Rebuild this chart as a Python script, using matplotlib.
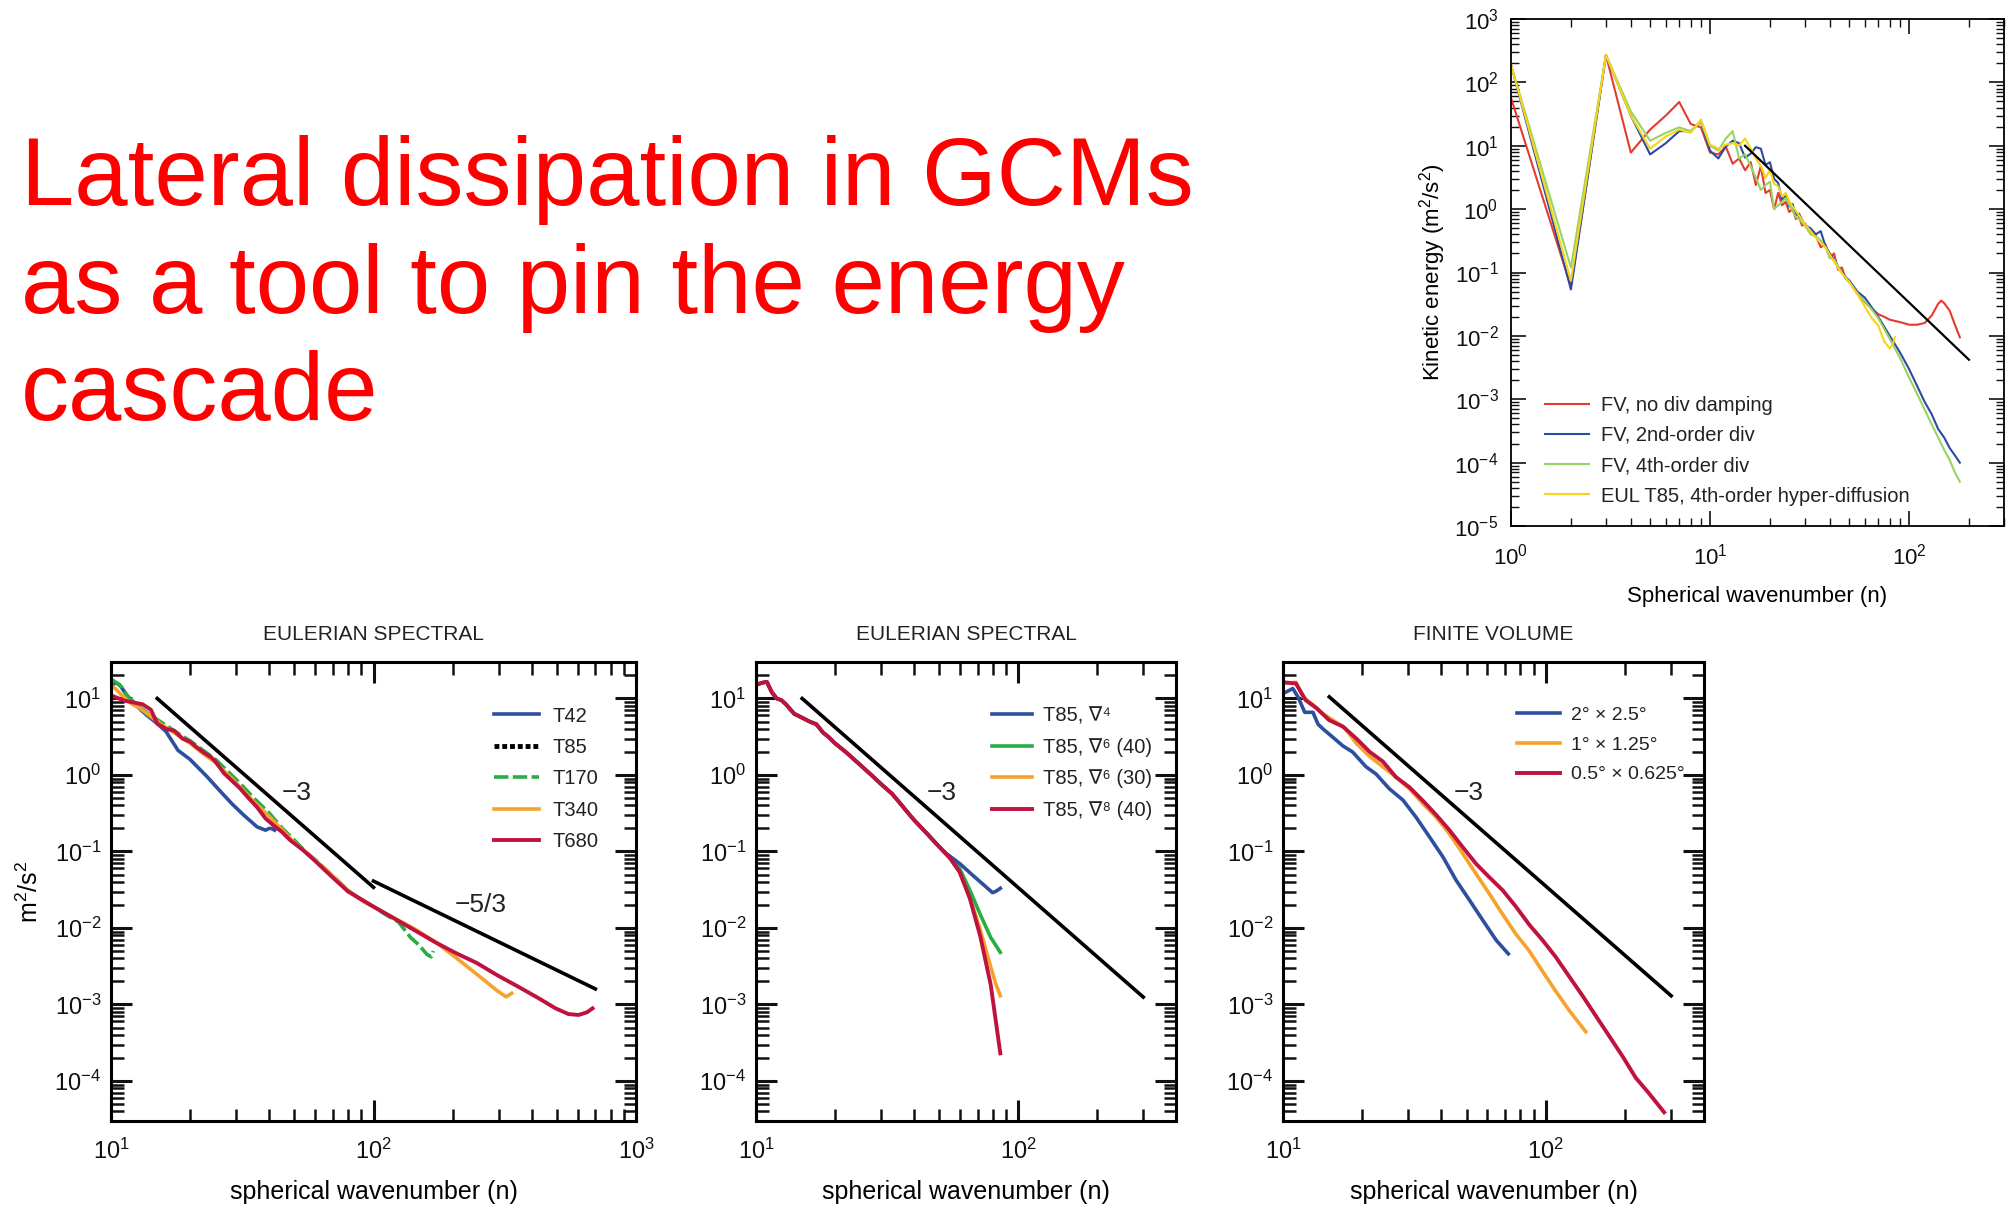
import numpy as np
import matplotlib
matplotlib.use('Agg')
import matplotlib.pyplot as plt
from matplotlib.ticker import LogLocator, NullFormatter

plt.rcParams['font.family'] = ['Liberation Sans', 'DejaVu Sans']
plt.rcParams['mathtext.fontset'] = 'dejavusans'
plt.rcParams['text.color'] = '#222222'

# ---- top right: kinetic energy spectra (FV vs EUL) ----
ke_red_n = [1, 2, 3, 4, 5, 6, 7, 8, 9, 10, 11, 12, 13, 14, 15, 16, 17, 18, 19, 20, 21, 22, 23, 24, 25, 26, 27, 28, 29, 30,
            32, 34, 36, 38, 40, 42, 44, 46, 48, 50, 53, 56, 60, 65, 70, 75, 80, 90, 100, 110, 120, 130, 140, 145, 150, 160, 170, 180]
ke_red = [57, 0.06, 270, 7.8, 18, 30, 49, 22, 19.5, 7.8, 7.3, 9.7, 5.2, 6.3, 4.1, 5.5, 2.4, 4.8, 1.8, 2.0, 1.0, 1.8, 1.15, 1.3, 0.9, 1.0, 0.7, 0.75, 0.55, 0.6,
          0.42, 0.38, 0.25, 0.28, 0.17, 0.2, 0.11, 0.12, 0.08, 0.075, 0.055, 0.045, 0.034, 0.027, 0.022, 0.02, 0.018, 0.0165, 0.015, 0.015, 0.016, 0.021, 0.032, 0.036, 0.033, 0.025, 0.015, 0.0095]

ke_blue_n = [1, 2, 3, 4, 5, 6, 7, 8, 9, 10, 11, 12, 13, 14, 15, 16, 17, 18, 19, 20, 21, 22, 23, 24, 25, 26, 27, 28, 30,
             32, 34, 36, 38, 40, 42, 45, 48, 50, 55, 60, 65, 70, 80, 90, 100, 110, 120, 130, 140, 150, 160, 170, 180]
ke_blue = [190, 0.054, 270, 30, 7.3, 11, 17, 17, 24, 8.4, 6.3, 9.7, 12, 11, 6.5, 7.5, 9.5, 9, 5, 5.5, 3.0, 2.6, 1.4, 1.6, 1.1, 1.2, 0.8, 0.85, 0.55,
           0.5, 0.4, 0.45, 0.26, 0.2, 0.16, 0.11, 0.085, 0.075, 0.05, 0.04, 0.028, 0.02, 0.01, 0.0055, 0.003, 0.0016, 0.0009, 0.00058, 0.00034, 0.00025, 0.00017, 0.00013, 0.0001]

ke_green_n = [1, 2, 3, 4, 5, 6, 7, 8, 9, 10, 11, 12, 13, 14, 15, 16, 17, 18, 19, 20, 21, 22, 23, 24, 25, 26, 27, 28, 30,
              32, 34, 36, 38, 40, 42, 45, 48, 50, 55, 60, 65, 70, 80, 90, 100, 110, 120, 130, 140, 150, 160, 170, 180]
ke_green = [190, 0.12, 270, 35, 12, 16, 19.5, 17, 24, 10, 8.4, 13, 17, 6.3, 7.3, 4.8, 3.1, 2.0, 2.4, 2.7, 1.0, 1.15, 1.3, 1.5, 1.17, 0.95, 0.75, 0.7, 0.55,
            0.4, 0.37, 0.32, 0.25, 0.17, 0.16, 0.11, 0.08, 0.07, 0.047, 0.035, 0.026, 0.019, 0.009, 0.0045, 0.0022, 0.0012, 0.00068, 0.0004, 0.00025, 0.00016, 0.00011, 0.00007, 0.00005]

ke_yel_n = [1, 2, 3, 4, 5, 6, 7, 8, 9, 10, 11, 12, 13, 14, 15, 16, 17, 18, 19, 20, 21, 22, 23, 24, 25, 26, 28, 30,
            32, 35, 38, 40, 45, 50, 55, 60, 65, 70, 75, 80, 83, 85]
ke_yel = [190, 0.074, 270, 30, 9, 14, 18, 16, 26, 10.4, 9, 10.4, 11, 10, 13, 9, 6.3, 4.8, 3.1, 4.1, 2.5, 2.3, 1.6, 1.8, 1.35, 1.1, 0.8, 0.58,
          0.45, 0.32, 0.25, 0.19, 0.105, 0.072, 0.045, 0.029, 0.019, 0.0146, 0.0082, 0.0063, 0.0075, 0.0096]

ke_ref_n = [15, 200]
ke_ref = [10, 0.0042]

# ---- panel 1: Eulerian spectral, resolution ----
p1_t42_n = [10, 10.5, 10.8, 11.5, 12.1, 13.5, 15, 16.2, 18, 20, 23.3, 26, 28.9, 32, 36, 38.8, 40, 40.9, 42]
p1_t42 = [15, 16, 15, 11, 8.9, 6.3, 4.7, 3.7, 2.1, 1.6, 0.94, 0.62, 0.42, 0.3, 0.21, 0.19, 0.2, 0.2, 0.19]

p1_t170_n = [10, 10.5, 11, 11.5, 12, 13, 14, 15, 16, 18, 20, 22, 25, 28, 31, 35, 40, 45, 50, 55, 60, 70, 80, 90, 100, 111, 124.5, 138.5, 149, 160, 166, 169]
p1_t170 = [18, 16, 14, 11, 9.5, 7.5, 6.2, 5.3, 4.6, 3.5, 2.8, 2.2, 1.6, 1.1, 0.78, 0.5, 0.32, 0.2, 0.14, 0.1, 0.078, 0.048, 0.031, 0.023, 0.019, 0.015, 0.012, 0.0075, 0.006, 0.0045, 0.0042, 0.005]

p1_t340_n = [10, 10.5, 11, 12, 13, 14, 15, 16, 18, 20, 22, 25, 28, 31, 35, 40, 45, 50, 60, 70, 80, 90, 100, 120, 143, 172, 206, 247, 297, 320, 336]
p1_t340 = [15, 13, 11, 8.5, 7.3, 6.0, 5.0, 4.3, 3.3, 2.6, 2.0, 1.45, 1.0, 0.7, 0.45, 0.29, 0.19, 0.13, 0.077, 0.048, 0.031, 0.023, 0.019, 0.0135, 0.0098, 0.0066, 0.0041, 0.0025, 0.0015, 0.00126, 0.0014]

p1_t680_n = [10, 11.2, 12.1, 13.2, 14.2, 15, 16.2, 17.4, 18.7, 20.1, 20.9, 22.4, 24.1, 25, 26.9, 28.9, 31, 33.4, 36, 38.8, 41.6, 44.8, 48.2, 53.8, 60,
             69.3, 80, 89.3, 100, 120, 143, 172, 206, 247, 297, 357, 427, 494, 553, 605, 650, 683]
p1_t680 = [11, 9.4, 8.9, 8.4, 7.1, 4.7, 4.0, 3.8, 3.0, 2.7, 2.4, 2.0, 1.7, 1.5, 1.06, 0.84, 0.67, 0.5, 0.38, 0.27, 0.22, 0.18, 0.14, 0.105, 0.075,
           0.047, 0.03, 0.024, 0.019, 0.0133, 0.0094, 0.0065, 0.0047, 0.0035, 0.0024, 0.0017, 0.0012, 0.00089, 0.00075, 0.00073, 0.00079, 0.00089]

p1_ref3_n = [15, 100]
p1_ref3 = [10, 0.034]
p1_ref53_n = [100, 700]
p1_ref53 = [0.041, 0.0016]

# ---- panel 2: Eulerian spectral, hyper-diffusion ----
p2_base_n = [10, 10.5, 11, 11.5, 12, 12.5, 13, 14, 15, 16, 17, 18, 19, 20, 22, 25, 28, 30, 33, 35, 38, 40, 45, 50]
p2_base = [15, 16, 16.5, 12, 10, 9.5, 8.4, 6.3, 5.6, 5.0, 4.6, 3.6, 3.1, 2.6, 2.0, 1.35, 0.95, 0.76, 0.57, 0.45, 0.32, 0.26, 0.17, 0.115]
p2_d4_n = [53, 60, 67.5, 75, 79.8, 82, 85.5]
p2_d4 = [0.095, 0.069, 0.048, 0.035, 0.029, 0.03, 0.033]
p2_d6a_n = [55, 59.8, 65.5, 71.7, 78.6, 82, 85.5]
p2_d6a = [0.082, 0.06, 0.031, 0.015, 0.0075, 0.006, 0.0048]
p2_d6b_n = [55, 59.8, 65.5, 71.7, 78.6, 82, 85.5]
p2_d6b = [0.08, 0.054, 0.025, 0.0095, 0.0031, 0.0019, 0.0013]
p2_d8_n = [55, 59.8, 65.5, 71.7, 78.6, 85.5]
p2_d8 = [0.082, 0.054, 0.024, 0.0078, 0.0018, 0.00023]
p2_ref_n = [15, 300]
p2_ref = [10, 0.00125]

# ---- panel 3: finite volume ----
p3_lo_n = [10, 10.9, 11.4, 12.1, 13, 13.6, 14.2, 15.5, 16.9, 18.4, 20.7, 22.6, 25.4, 28.6, 32.1, 36.1, 40.6, 45.6, 51.3, 57.6, 64.8, 72]
p3_lo = [11.6, 13.5, 10.5, 6.6, 6.6, 4.6, 4.0, 3.1, 2.4, 2.0, 1.28, 1.03, 0.66, 0.47, 0.28, 0.155, 0.085, 0.042, 0.023, 0.0126, 0.0069, 0.0046]
p3_mid_n = [10, 11.2, 11.9, 13, 14.2, 15.5, 17.2, 19, 21.4, 24, 26.9, 30.3, 34.1, 38.3, 43, 48.3, 54.3, 61, 68.6, 77, 86.6, 97.3, 109, 123, 142]
p3_mid = [15.7, 16.3, 10.5, 8.3, 6.3, 5.2, 4.1, 2.6, 1.74, 1.28, 0.94, 0.66, 0.42, 0.28, 0.17, 0.094, 0.051, 0.028, 0.015, 0.0083, 0.005, 0.0027, 0.0015, 0.00083, 0.00044]
p3_hi_n = [10, 11.2, 12.2, 13.4, 15, 16.9, 19, 21.4, 24, 26.9, 30.3, 34.1, 38.3, 43, 48.3, 54.3, 61, 68.6, 77, 86.6, 97.3,
           109, 123, 138, 155, 174, 196, 220, 247, 282]
p3_hi = [16.3, 15.7, 9.5, 7.5, 5.2, 4.3, 3.0, 2.0, 1.5, 0.94, 0.69, 0.46, 0.3, 0.19, 0.114, 0.069, 0.046, 0.031, 0.019, 0.011, 0.0069,
         0.0042, 0.0023, 0.0013, 0.00071, 0.00039, 0.00021, 0.00011, 0.000069, 0.000039]
p3_ref_n = [15, 300]
p3_ref = [10.5, 0.0013]

BLUE = '#2d4f9f'
GREEN = '#29ad45'
ORANGE = '#f6a22c'
CRIMSON = '#c0123e'

W, H = 2007, 1206
fig = plt.figure(figsize=(W / 100, H / 100), dpi=100)


def style_bottom(ax, xmax, xticks):
    ax.set_xscale('log')
    ax.set_yscale('log')
    ax.set_xticks(xticks)
    ax.set_yticks([1e-4, 1e-3, 1e-2, 1e-1, 1, 10])
    ax.set_xlim(10, xmax)
    ax.set_ylim(3e-5, 30)
    for s in ax.spines.values():
        s.set_linewidth(2.2)
    ax.xaxis.set_minor_locator(LogLocator(base=10, subs=np.arange(2, 10), numticks=50))
    ax.yaxis.set_minor_locator(LogLocator(base=10, subs=np.arange(2, 10), numticks=50))
    ax.xaxis.set_minor_formatter(NullFormatter())
    ax.yaxis.set_minor_formatter(NullFormatter())
    ax.tick_params(which='both', direction='in', top=True, right=True, labelsize=17, colors='#111111')
    ax.tick_params(which='major', length=15, width=2.2, pad=7)
    ax.tick_params(which='minor', length=9, width=1.8)
    ax.tick_params(axis='x', which='major', pad=13)
    ax.set_xlabel('spherical wavenumber (n)', fontsize=18, labelpad=11)


def place(x0, y0, w, h):
    return fig.add_axes([x0 / W, 1 - (y0 + h) / H, w / W, h / H])


leg_kw = dict(loc='upper left', frameon=False, labelspacing=0.62, borderpad=0, borderaxespad=0)

# panel 1
ax1 = place(111, 662, 525, 459)
style_bottom(ax1, 1000, [10, 100, 1000])
ax1.plot(p1_t42_n, p1_t42, color=BLUE, lw=2.6, label='T42')
ax1.plot([], [], color='black', lw=3.5, ls=(0, (1, 0.6)), label='T85')
ax1.plot(p1_t170_n, p1_t170, color=GREEN, lw=2.6, ls=(0, (4, 1.2)), label='T170')
ax1.plot(p1_t340_n, p1_t340, color=ORANGE, lw=2.6, label='T340')
ax1.plot(p1_t680_n, p1_t680, color=CRIMSON, lw=2.8, label='T680')
ax1.plot(p1_ref3_n, p1_ref3, color='black', lw=2.6)
ax1.plot(p1_ref53_n, p1_ref53, color='black', lw=2.6)
ax1.text(51, 0.59, '\u22123', fontsize=19, ha='center', va='center')
ax1.text(255, 0.02, '\u22125/3', fontsize=19, ha='center', va='center')
ax1.set_title('EULERIAN SPECTRAL', fontsize=15, pad=16)
ax1.set_ylabel(r'm$^\mathregular{2}$/s$^\mathregular{2}$', fontsize=18, labelpad=8)
ax1.legend(bbox_to_anchor=(0.7295, 0.903), fontsize=14.5, handlelength=2.25, handletextpad=0.65, **leg_kw)

# panel 2
ax2 = place(756, 662, 420, 459)
style_bottom(ax2, 400, [10, 100])
ax2.plot(p2_base_n + p2_d6b_n, p2_base + p2_d6b, color=ORANGE, lw=2.6, label='T85, \u2207\u2076 (30)')
ax2.plot(p2_base_n + p2_d6a_n, p2_base + p2_d6a, color=GREEN, lw=2.6, label='T85, \u2207\u2076 (40)')
ax2.plot(p2_base_n + p2_d4_n, p2_base + p2_d4, color=BLUE, lw=2.6, label='T85, \u2207\u2074')
ax2.plot(p2_base_n + p2_d8_n, p2_base + p2_d8, color=CRIMSON, lw=2.8, label='T85, \u2207\u2078 (40)')
ax2.plot(p2_ref_n, p2_ref, color='black', lw=2.6)
ax2.text(51, 0.59, '\u22123', fontsize=19, ha='center', va='center')
ax2.set_title('EULERIAN SPECTRAL', fontsize=15, pad=16)
h2, l2 = ax2.get_legend_handles_labels()
order = [2, 1, 0, 3]
ax2.legend([h2[i] for i in order], [l2[i] for i in order], bbox_to_anchor=(0.562, 0.903),
           fontsize=14.5, handlelength=2.0, handletextpad=0.55, **leg_kw)

# panel 3
ax3 = place(1283, 662, 421, 459)
style_bottom(ax3, 400, [10, 100])
ax3.plot(p3_lo_n, p3_lo, color=BLUE, lw=2.6, label='2\u00b0 \u00d7 2.5\u00b0')
ax3.plot(p3_mid_n, p3_mid, color=ORANGE, lw=2.6, label='1\u00b0 \u00d7 1.25\u00b0')
ax3.plot(p3_hi_n, p3_hi, color=CRIMSON, lw=2.8, label='0.5\u00b0 \u00d7 0.625\u00b0')
ax3.plot(p3_ref_n, p3_ref, color='black', lw=2.6)
ax3.text(51, 0.59, '\u22123', fontsize=19, ha='center', va='center')
ax3.set_title('FINITE VOLUME', fontsize=15, pad=16)
ax3.legend(bbox_to_anchor=(0.556, 0.903), fontsize=14, handlelength=2.2, handletextpad=0.55, **leg_kw)

# top right panel
ax0 = place(1511, 19, 493, 507)
ax0.set_xscale('log')
ax0.set_yscale('log')
ax0.set_xticks([1, 10, 100])
ax0.set_yticks([1e-5, 1e-4, 1e-3, 1e-2, 1e-1, 1, 10, 100, 1000])
ax0.set_xlim(1, 300)
ax0.set_ylim(1e-5, 1e3)
ax0.plot(ke_red_n, ke_red, color='#e53a2f', lw=1.5, label='FV, no div damping')
ax0.plot(ke_blue_n, ke_blue, color='#2a4aa5', lw=1.5, label='FV, 2nd-order div')
ax0.plot(ke_green_n, ke_green, color='#98d460', lw=1.5, label='FV, 4th-order div')
ax0.plot(ke_yel_n, ke_yel, color='#f8d31b', lw=1.5, label='EUL T85, 4th-order hyper-diffusion')
ax0.plot(ke_ref_n, ke_ref, color='black', lw=1.6)
for s in ax0.spines.values():
    s.set_linewidth(1.3)
ax0.xaxis.set_minor_locator(LogLocator(base=10, subs=np.arange(2, 10), numticks=50))
ax0.yaxis.set_minor_locator(LogLocator(base=10, subs=np.arange(2, 10), numticks=50))
ax0.xaxis.set_minor_formatter(NullFormatter())
ax0.yaxis.set_minor_formatter(NullFormatter())
ax0.tick_params(which='both', direction='in', top=True, right=True, labelsize=16, colors='#111111')
ax0.tick_params(which='major', length=11, width=1.2, pad=9)
ax0.tick_params(axis='x', which='major', pad=12.5)
ax0.tick_params(which='minor', length=6, width=1.0)
ax0.set_xlabel('Spherical wavenumber (n)', fontsize=16, labelpad=12)
ax0.set_ylabel(r'Kinetic energy (m$^\mathregular{2}$/s$^\mathregular{2}$)', fontsize=16, labelpad=4.5)
ax0.legend(loc='upper left', bbox_to_anchor=(0.069, 0.257), frameon=False, fontsize=14.5,
           handlelength=2.2, handletextpad=0.6, labelspacing=0.56, borderpad=0, borderaxespad=0)

# title
for txt, base in zip(['Lateral dissipation in GCMs', 'as a tool to pin the energy', 'cascade'], [205, 313, 420]):
    fig.text(21 / W, 1 - base / H, txt, color='#ff0000', fontsize=69, va='baseline', ha='left')

fig.savefig('out.png', dpi=100)
